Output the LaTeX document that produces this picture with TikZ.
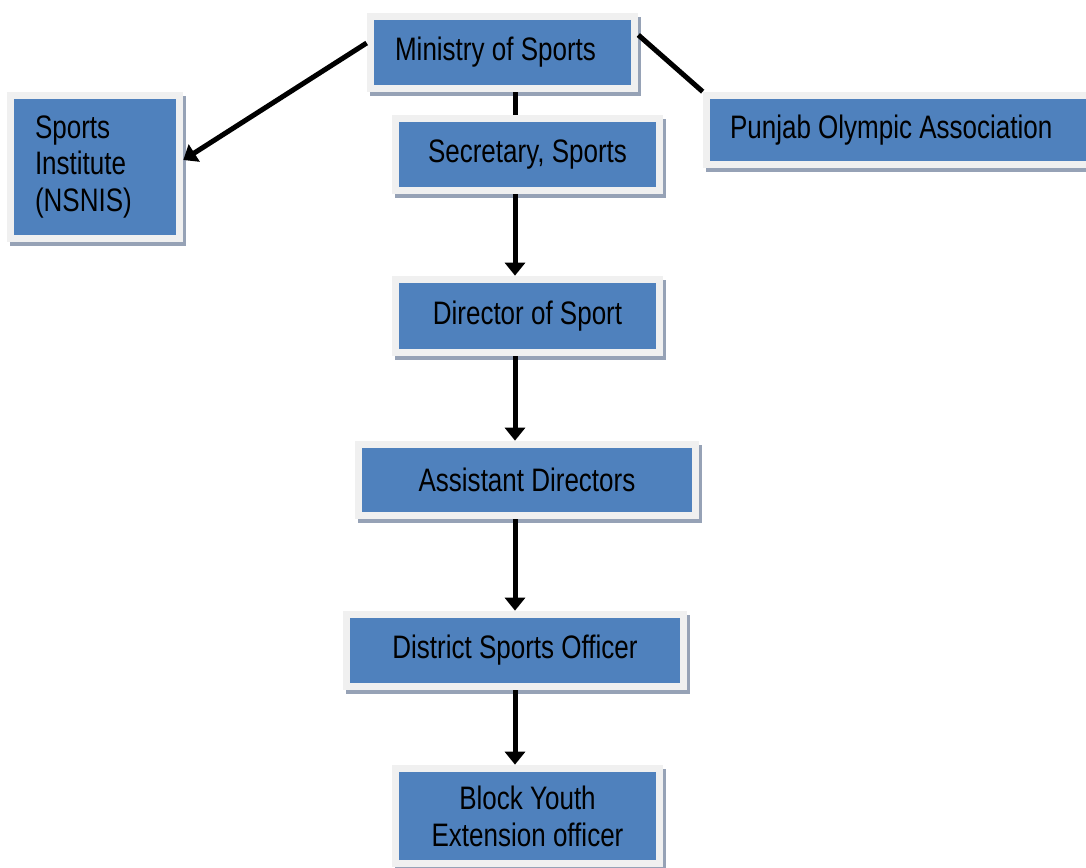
\documentclass[tikz,border=0pt]{standalone}
\usepackage{fontspec}
\setmainfont{Liberation Sans}[FakeStretch=0.80]
\usetikzlibrary{arrows.meta,shadows}
\definecolor{boxblue}{RGB}{79,129,189}
\definecolor{framegray}{RGB}{240,240,240}
\definecolor{shadowgray}{RGB}{150,162,182}
\begin{document}
\begin{tikzpicture}[
    x=0.02cm, y=-0.02cm,
    box/.style={rectangle, fill=framegray, inner sep=0pt, align=center,
                font=\fontsize{18.5}{21}\selectfont,
                drop shadow={shadow xshift=0.06cm, shadow yshift=-0.08cm, fill=shadowgray, opacity=1},
                path picture={\fill[boxblue] ([shift={(0.14cm,0.14cm)}]path picture bounding box.south west)
                  rectangle ([shift={(-0.14cm,-0.14cm)}]path picture bounding box.north east);}},
    arrow/.style={-{Triangle[length=0.26cm,width=0.4cm]}, line width=0.1cm},
    link/.style={line width=0.1cm}
]
\useasboundingbox (0,0) rectangle (1086,868);

% Ministry of Sports
\node[box, minimum width=5.42cm, minimum height=1.58cm] (min) at (502.5, 52.5) {Ministry of Sports\hspace{0.28cm}};

% Sports Institute
\node[box, minimum width=3.52cm, minimum height=3cm, inner xsep=0.56cm, text width=2.4cm, align=flush left] (inst) at (95, 167) {Sports\\Institute\\(NSNIS)};

% Punjab Olympic Association
\node[box, minimum width=7.84cm, minimum height=1.52cm, inner xsep=0.54cm, text width=6.76cm, align=flush left] (poa) at (899, 130) {Punjab Olympic Association};

% Secretary
\node[box, minimum width=5.42cm, minimum height=1.58cm] (sec) at (527.5, 154.5) {Secretary, Sports};

% Director
\node[box, minimum width=5.42cm, minimum height=1.6cm] (dir) at (527.5, 316) {Director of Sport};

% Assistant Directors
\node[box, minimum width=6.88cm, minimum height=1.56cm] (asst) at (527, 480) {Assistant Directors};

% District Sports Officer
\node[box, minimum width=6.88cm, minimum height=1.58cm] (dso) at (515, 650.5) {District Sports Officer};

% Block Youth Extension officer
\node[box, minimum width=5.42cm, minimum height=2.04cm] (byeo) at (527.5, 816) {Block Youth\\Extension officer};

% Arrows
\draw[arrow] ([yshift=0.19cm]min.west) -- ([yshift=0.14cm]inst.east);
\draw[link] ([yshift=0.35cm]min.east) -- (poa.north west);
\draw[link] (min.south -| dso.center) -- (sec.north -| dso.center);
\draw[arrow] (sec.south -| dso.center) -- (dir.north -| dso.center);
\draw[arrow] (dir.south -| dso.center) -- (asst.north -| dso.center);
\draw[arrow] (asst.south -| dso.center) -- (dso.north);
\draw[arrow] (dso.south) -- (byeo.north -| dso.center);
\end{tikzpicture}
\end{document}
